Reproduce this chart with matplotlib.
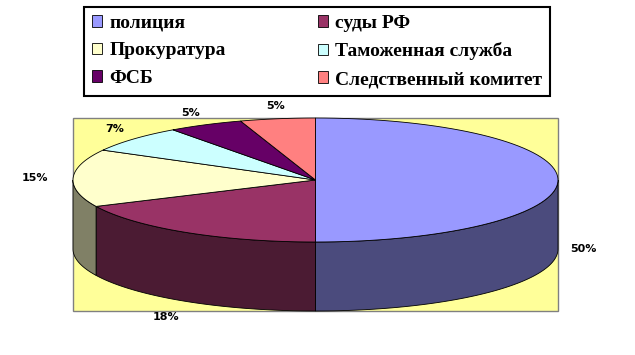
import numpy as np
import matplotlib
matplotlib.use("Agg")
import matplotlib.pyplot as plt
from matplotlib.patches import Polygon, Rectangle, Patch

plt.rcParams['font.family'] = ['Liberation Serif', 'DejaVu Serif']

# данные
labels = ['полиция', 'суды РФ', 'Прокуратура', 'Таможенная служба', 'ФСБ', 'Следственный комитет']
values = [50, 18, 15, 7, 5, 5]
top_colors = ['#9999FF', '#993366', '#FFFFCC', '#CCFFFF', '#660066', '#FF8080']
side_colors = ['#4B4B7D', '#4B1B33', '#808066', '#668080', '#330033', '#804040']

fig = plt.figure(figsize=(6.35, 3.55), dpi=100)
ax = fig.add_axes([0, 0, 1, 1])
ax.set_xlim(0, 635)
ax.set_ylim(355, 0)
ax.axis('off')

# геометрия псевдо-3D круговой
cx, cy = 315.5, 180
rx, ry = 242.5, 62
depth = 69


def pt(t, dz=0):
    r = np.radians(t)
    return cx + rx * np.sin(r), cy - ry * np.cos(r) + dz


# фон области построения
ax.add_patch(Rectangle((cx - rx, cy - ry), 2 * rx, 2 * ry + depth,
                       facecolor='#FFFF99', edgecolor='#808080', lw=1, zorder=0))

total = sum(values)
bounds = np.concatenate([[0], np.cumsum(values)]) / total * 360

# боковые стенки (видна только передняя половина)
for i in range(len(values)):
    a0, a1 = max(bounds[i], 90), min(bounds[i + 1], 270)
    if a1 <= a0:
        continue
    ts = np.linspace(a0, a1, 60)
    top = [pt(t) for t in ts]
    bot = [pt(t, depth) for t in ts[::-1]]
    ax.add_patch(Polygon(top + bot, closed=True, facecolor=side_colors[i],
                         edgecolor='black', lw=0.6, zorder=1))

# верхние сектора
for i in range(len(values)):
    ts = np.linspace(bounds[i], bounds[i + 1], 80)
    poly = [(cx, cy)] + [pt(t) for t in ts]
    ax.add_patch(Polygon(poly, closed=True, facecolor=top_colors[i],
                         edgecolor='black', lw=0.6, zorder=2))

# подписи процентов
gx, gy = 12, 8
for i, v in enumerate(values):
    t = np.radians((bounds[i] + bounds[i + 1]) / 2)
    s, c = np.sin(t), np.cos(t)
    x = cx + (rx + gx) * s
    if s < -0.97:
        x -= 13  # у Excel подпись слева отодвинута дальше
    y = cy - (ry + gy) * c + (depth if c < 0.01 else 0)
    if c < -0.4:
        y += 4
    ha = 'left' if s > 0.4 else ('right' if s < -0.4 else 'center')
    va = 'top' if c < -0.4 else ('bottom' if c > 0.4 else 'center')
    ax.text(x, y, f'{v}%', ha=ha, va=va, fontsize=8, fontweight='bold',
            family='DejaVu Sans', zorder=3)

# легенда: построчно в две колонки
order = [0, 2, 4, 1, 3, 5]
handles = [Patch(facecolor=top_colors[k], edgecolor='black', lw=0.6) for k in order]
leg = fig.legend(handles, [labels[k] for k in order], ncol=2,
                 loc='upper left', mode='expand',
                 bbox_to_anchor=(84 / 635, 1 - 94 / 355, 466 / 635, 87 / 355),
                 prop={'weight': 'bold', 'size': 14},
                 handlelength=0.55, handleheight=0.55, handletextpad=0.35,
                 labelspacing=0.55, borderpad=0.4, borderaxespad=0,
                 fancybox=False, framealpha=1, edgecolor='black')
leg.get_frame().set_linewidth(1.5)

fig.savefig('out.png', dpi=100)
